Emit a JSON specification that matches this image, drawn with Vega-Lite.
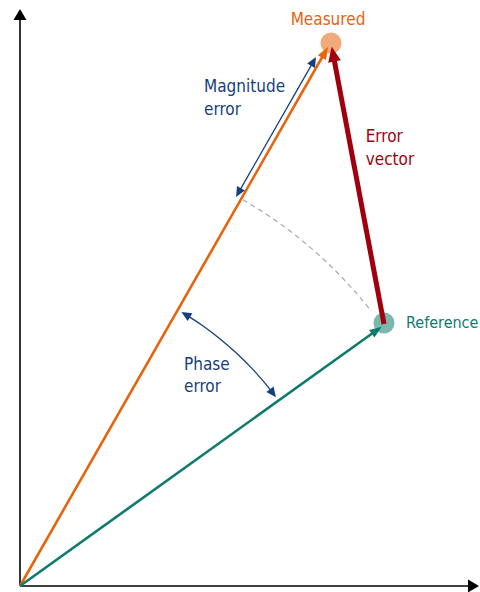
{
  "$schema": "https://vega.github.io/schema/vega-lite/v6.json",
  "width": 480,
  "height": 592,
  "autosize": {"type": "none"},
  "padding": 0,
  "background": "white",
  "config": {"view": {"stroke": null}, "font": "DejaVu Sans Condensed, Roboto, sans-serif"},
  "datasets": {
    "axes": [
      {"id": "y", "o": 0, "x": 0, "y": 0, "s": "axis"},
      {"id": "y", "o": 1, "x": 0, "y": 570, "s": "axis"},
      {"id": "x", "o": 0, "x": 0, "y": 0, "s": "axis"},
      {"id": "x", "o": 1, "x": 452, "y": 0, "s": "axis"}
    ],
    "vectors": [
      {"s": "measured", "o": 0, "x": 0, "y": 0},
      {"s": "measured", "o": 1, "x": 306, "y": 535.5},
      {"s": "reference", "o": 0, "x": 0, "y": 0},
      {"s": "reference", "o": 1, "x": 358.4, "y": 257}
    ],
    "errorvec": [
      {"s": "error", "o": 0, "x": 364, "y": 262},
      {"s": "error", "o": 1, "x": 313, "y": 532.4}
    ],
    "magnitude": [
      {"s": "annot", "o": 0, "x": 217.5, "y": 391.6},
      {"s": "annot", "o": 1, "x": 294.5, "y": 526.4}
    ],
    "phase": [
      {"s": "annot", "o": 0, "x": 163.8, "y": 272.6},
      {"s": "annot", "o": 1, "x": 182.4, "y": 260.5},
      {"s": "annot", "o": 2, "x": 200.1, "y": 247.1},
      {"s": "annot", "o": 3, "x": 216.9, "y": 232.6},
      {"s": "annot", "o": 4, "x": 232.6, "y": 216.9},
      {"s": "annot", "o": 5, "x": 245.4, "y": 202.3},
      {"s": "annot", "o": 6, "x": 254.0, "y": 191.4}
    ],
    "dashed": [
      {"o": 0, "x": 223, "y": 386.2},
      {"o": 1, "x": 249.4, "y": 369.7},
      {"o": 2, "x": 274.6, "y": 351.4},
      {"o": 3, "x": 298.4, "y": 331.4},
      {"o": 4, "x": 320.8, "y": 309.8},
      {"o": 5, "x": 341.6, "y": 286.7},
      {"o": 6, "x": 349.0, "y": 277.6}
    ],
    "points": [
      {"s": "measured", "x": 311, "y": 543},
      {"s": "reference", "x": 364, "y": 263}
    ],
    "arrows": [
      {"kind": "axis", "s": "axis", "x": 0, "y": 577, "dir": 0},
      {"kind": "axis", "s": "axis", "x": 459, "y": 0, "dir": 90},
      {"kind": "vector", "s": "measured", "x": 308, "y": 539, "dir": 29.7},
      {"kind": "vector", "s": "reference", "x": 361.7, "y": 259.3, "dir": 54.4},
      {"kind": "error", "s": "error", "x": 311.7, "y": 539.3, "dir": 349.1},
      {"kind": "annot", "s": "annot", "x": 296, "y": 529, "dir": 29.7},
      {"kind": "annot", "s": "annot", "x": 216, "y": 389, "dir": 209.7},
      {"kind": "annot", "s": "annot", "x": 161.4, "y": 274.0, "dir": 300.5},
      {"kind": "annot", "s": "annot", "x": 255.9, "y": 188.7, "dir": 143.6}
    ],
    "labels": [
      {"text": "Magnitude", "s": "annot", "x": 184, "y": 494},
      {"text": "error", "s": "annot", "x": 184, "y": 471},
      {"text": "Error", "s": "error", "x": 345.7, "y": 444.3},
      {"text": "vector", "s": "error", "x": 345.7, "y": 421},
      {"text": "Phase", "s": "annot", "x": 164, "y": 216},
      {"text": "error", "s": "annot", "x": 164, "y": 194.3}
    ],
    "reflabel": [
      {"text": "Reference", "s": "reference", "x": 386, "y": 258}
    ],
    "title": [
      {"text": "Measured", "s": "measured", "x": 308, "y": 561}
    ]
  },
  "encoding": {
    "x": {"field": "x", "type": "quantitative", "scale": {"domain": [-20, 460], "nice": false, "zero": false}, "axis": null},
    "y": {"field": "y", "type": "quantitative", "scale": {"domain": [-6, 586], "nice": false, "zero": false}, "axis": null}
  },
  "layer": [
    {
      "data": {"name": "points"},
      "mark": {"type": "point", "shape": "circle", "filled": true, "size": 440, "opacity": 0.55},
      "encoding": {
        "color": {"field": "s", "type": "nominal", "legend": null, "scale": {"domain": ["axis", "measured", "reference", "error", "annot"], "range": ["#000000", "#E8640C", "#0F7B6E", "#A0000E", "#163F7C"]}}
      }
    },
    {
      "data": {"name": "dashed"},
      "mark": {"type": "line", "interpolate": "monotone", "color": "#A6A6A6", "strokeWidth": 1.2, "strokeDash": [5, 4]},
      "encoding": {"order": {"field": "o", "type": "quantitative"}}
    },
    {
      "data": {"name": "axes"},
      "mark": {"type": "line", "strokeWidth": 1.6, "strokeCap": "butt"},
      "encoding": {
        "detail": {"field": "id", "type": "nominal"},
        "order": {"field": "o", "type": "quantitative"},
        "color": {"field": "s", "type": "nominal", "legend": null, "scale": {"domain": ["axis", "measured", "reference", "error", "annot"], "range": ["#000000", "#E8640C", "#0F7B6E", "#A0000E", "#163F7C"]}}
      }
    },
    {
      "data": {"name": "vectors"},
      "mark": {"type": "line", "strokeWidth": 2.6, "strokeCap": "butt"},
      "encoding": {
        "order": {"field": "o", "type": "quantitative"},
        "color": {"field": "s", "type": "nominal", "legend": null, "scale": {"domain": ["axis", "measured", "reference", "error", "annot"], "range": ["#000000", "#E8640C", "#0F7B6E", "#A0000E", "#163F7C"]}}
      }
    },
    {
      "data": {"name": "errorvec"},
      "mark": {"type": "line", "strokeWidth": 5, "strokeCap": "butt"},
      "encoding": {
        "order": {"field": "o", "type": "quantitative"},
        "color": {"field": "s", "type": "nominal", "legend": null, "scale": {"domain": ["axis", "measured", "reference", "error", "annot"], "range": ["#000000", "#E8640C", "#0F7B6E", "#A0000E", "#163F7C"]}}
      }
    },
    {
      "data": {"name": "magnitude"},
      "mark": {"type": "line", "strokeWidth": 1.3, "strokeCap": "butt"},
      "encoding": {
        "order": {"field": "o", "type": "quantitative"},
        "color": {"field": "s", "type": "nominal", "legend": null, "scale": {"domain": ["axis", "measured", "reference", "error", "annot"], "range": ["#000000", "#E8640C", "#0F7B6E", "#A0000E", "#163F7C"]}}
      }
    },
    {
      "data": {"name": "phase"},
      "mark": {"type": "line", "strokeWidth": 1.3, "strokeCap": "butt", "interpolate": "monotone"},
      "encoding": {
        "order": {"field": "o", "type": "quantitative"},
        "color": {"field": "s", "type": "nominal", "legend": null, "scale": {"domain": ["axis", "measured", "reference", "error", "annot"], "range": ["#000000", "#E8640C", "#0F7B6E", "#A0000E", "#163F7C"]}}
      }
    },
    {
      "data": {"name": "arrows"},
      "transform": [{"filter": "datum.kind === 'axis'"}],
      "mark": {"type": "point", "filled": true, "opacity": 1, "shape": "M0,0L0.59,1L-0.59,1Z", "size": 484},
      "encoding": {
        "angle": {"field": "dir", "type": "quantitative", "scale": null},
        "color": {"field": "s", "type": "nominal", "legend": null, "scale": {"domain": ["axis", "measured", "reference", "error", "annot"], "range": ["#000000", "#E8640C", "#0F7B6E", "#A0000E", "#163F7C"]}}
      }
    },
    {
      "data": {"name": "arrows"},
      "transform": [{"filter": "datum.kind === 'vector'"}],
      "mark": {"type": "point", "filled": true, "opacity": 1, "shape": "M0,0L0.38,1L-0.38,1Z", "size": 600},
      "encoding": {
        "angle": {"field": "dir", "type": "quantitative", "scale": null},
        "color": {"field": "s", "type": "nominal", "legend": null, "scale": {"domain": ["axis", "measured", "reference", "error", "annot"], "range": ["#000000", "#E8640C", "#0F7B6E", "#A0000E", "#163F7C"]}}
      }
    },
    {
      "data": {"name": "arrows"},
      "transform": [{"filter": "datum.kind === 'error'"}],
      "mark": {"type": "point", "filled": true, "opacity": 1, "shape": "M0,0L0.43,1L-0.43,1Z", "size": 900},
      "encoding": {
        "angle": {"field": "dir", "type": "quantitative", "scale": null},
        "color": {"field": "s", "type": "nominal", "legend": null, "scale": {"domain": ["axis", "measured", "reference", "error", "annot"], "range": ["#000000", "#E8640C", "#0F7B6E", "#A0000E", "#163F7C"]}}
      }
    },
    {
      "data": {"name": "arrows"},
      "transform": [{"filter": "datum.kind === 'annot'"}],
      "mark": {"type": "point", "filled": true, "opacity": 1, "shape": "M0,0L0.45,1L-0.45,1Z", "size": 400},
      "encoding": {
        "angle": {"field": "dir", "type": "quantitative", "scale": null},
        "color": {"field": "s", "type": "nominal", "legend": null, "scale": {"domain": ["axis", "measured", "reference", "error", "annot"], "range": ["#000000", "#E8640C", "#0F7B6E", "#A0000E", "#163F7C"]}}
      }
    },
    {
      "data": {"name": "labels"},
      "mark": {"type": "text", "align": "left", "baseline": "alphabetic", "fontSize": 17, "font": "DejaVu Sans Condensed, Roboto, sans-serif"},
      "encoding": {
        "text": {"field": "text"},
        "color": {"field": "s", "type": "nominal", "legend": null, "scale": {"domain": ["axis", "measured", "reference", "error", "annot"], "range": ["#000000", "#E8640C", "#0F7B6E", "#A0000E", "#163F7C"]}}
      }
    },
    {
      "data": {"name": "reflabel"},
      "mark": {"type": "text", "align": "left", "baseline": "alphabetic", "fontSize": 16, "font": "DejaVu Sans Condensed, Roboto, sans-serif"},
      "encoding": {
        "text": {"field": "text"},
        "color": {"field": "s", "type": "nominal", "legend": null, "scale": {"domain": ["axis", "measured", "reference", "error", "annot"], "range": ["#000000", "#E8640C", "#0F7B6E", "#A0000E", "#163F7C"]}}
      }
    },
    {
      "data": {"name": "title"},
      "mark": {"type": "text", "align": "center", "baseline": "alphabetic", "fontSize": 17, "font": "DejaVu Sans Condensed, Roboto, sans-serif"},
      "encoding": {
        "text": {"field": "text"},
        "color": {"field": "s", "type": "nominal", "legend": null, "scale": {"domain": ["axis", "measured", "reference", "error", "annot"], "range": ["#000000", "#E8640C", "#0F7B6E", "#A0000E", "#163F7C"]}}
      }
    }
  ]
}
